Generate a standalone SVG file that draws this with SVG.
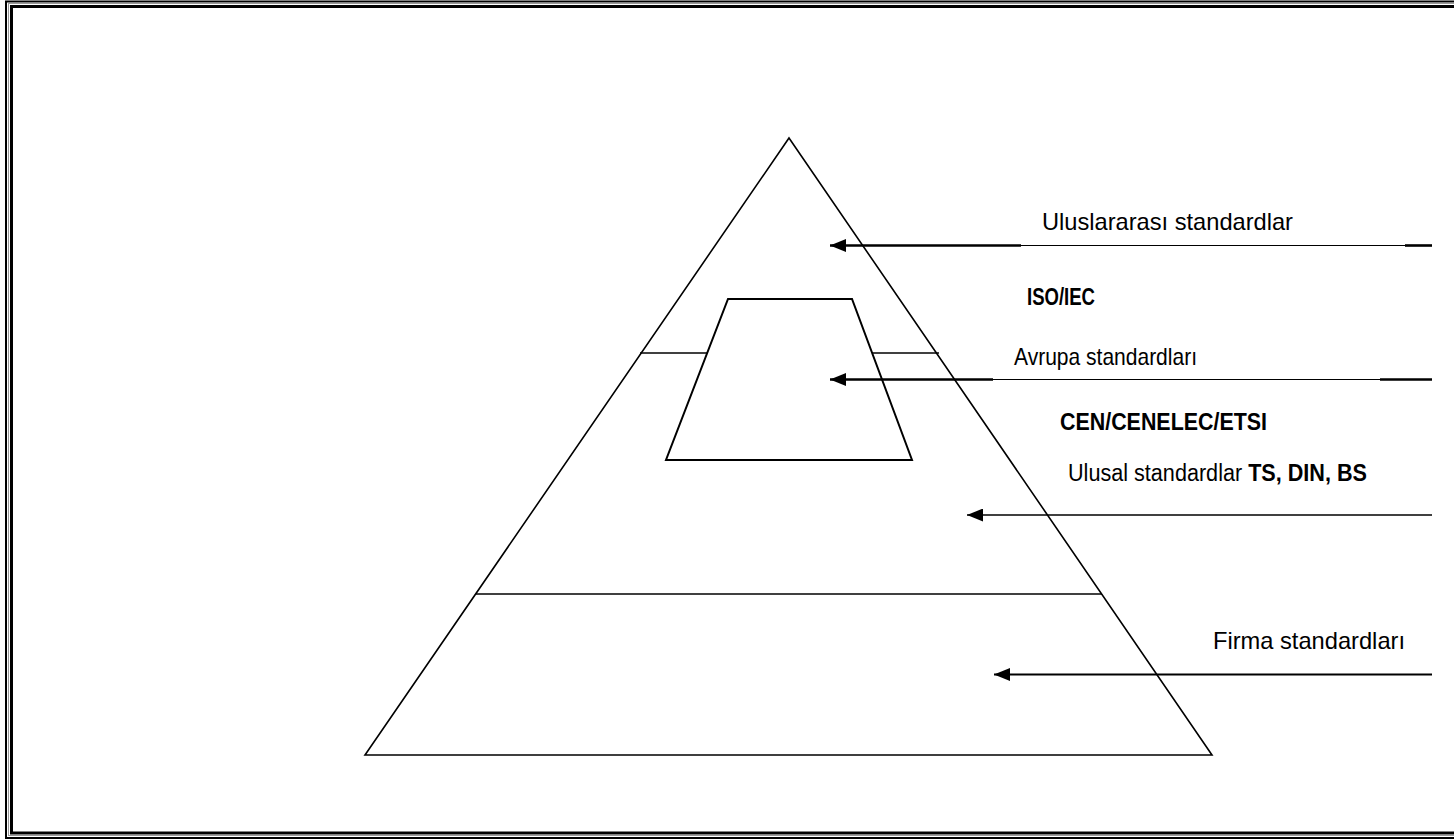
<svg xmlns="http://www.w3.org/2000/svg" width="1454" height="839" viewBox="0 0 1454 839">
<style>
.shape{fill:none;stroke:#000;stroke-width:1.6;stroke-linejoin:miter}
.ln{stroke:#000;fill:none}
.t{font-family:"Liberation Sans",Arial,sans-serif;font-size:24px;fill:#000}
.b{font-weight:bold}
</style>
<defs>
<marker id="ah" markerWidth="16" markerHeight="13" refX="16" refY="6.5" orient="auto" markerUnits="userSpaceOnUse" viewBox="0 0 16 13">
<path d="M0,0 L16,6.5 L0,13 Z" fill="#000"/>
</marker>
</defs>
<rect width="1454" height="839" fill="#fff"/>
<g id="frame">
<rect x="6" y="1.5" width="1460" height="836.5" fill="none" stroke="#000" stroke-width="2"/>
<rect x="8.5" y="3.5" width="1460" height="832" fill="none" stroke="#999" stroke-width="1"/>
<rect x="11.5" y="6.5" width="1450" height="826.5" fill="none" stroke="#000" stroke-width="3"/>
</g>
<g id="pyramid">
<polygon class="shape" points="789,138 1212,755 365,755"/>
<line class="shape" x1="476" y1="594" x2="1102" y2="594"/>
<line class="shape" x1="640" y1="353" x2="707" y2="353"/>
<line class="shape" x1="872" y1="353" x2="939" y2="353"/>
</g>
<g id="europe-block">
<polygon class="shape" style="stroke-width:2" points="728,299 852,299 912,460 666,460"/>
</g>
<g id="connectors">
<line class="ln" x1="1021" y1="245.5" x2="830" y2="245.5" stroke-width="2.6" marker-end="url(#ah)"/>
<line class="ln" x1="1021" y1="245.5" x2="1405" y2="245.5" stroke-width="1.2"/>
<line class="ln" x1="1405" y1="245.5" x2="1432" y2="245.5" stroke-width="2.6"/>
<line class="ln" x1="993" y1="379.5" x2="830" y2="379.5" stroke-width="2.6" marker-end="url(#ah)"/>
<line class="ln" x1="993" y1="379.5" x2="1380" y2="379.5" stroke-width="1.2"/>
<line class="ln" x1="1380" y1="379.5" x2="1432" y2="379.5" stroke-width="2.6"/>
<line class="ln" x1="1432" y1="515" x2="967" y2="515" stroke-width="1.5" marker-end="url(#ah)"/>
<line class="ln" x1="1432" y1="674.5" x2="994" y2="674.5" stroke-width="2" marker-end="url(#ah)"/>
</g>
<g id="labels">
<text class="t" x="1042" y="230" textLength="251" lengthAdjust="spacingAndGlyphs">Uluslararası standardlar</text>
<text class="t b" x="1027" y="305" textLength="68" lengthAdjust="spacingAndGlyphs" style="font-size:23px">ISO/IEC</text>
<text class="t" x="1014" y="365" textLength="183" lengthAdjust="spacingAndGlyphs">Avrupa standardları</text>
<text class="t b" x="1060" y="430" textLength="207" lengthAdjust="spacingAndGlyphs" style="font-size:23px">CEN/CENELEC/ETSI</text>
<text class="t" x="1068" y="481" textLength="299" lengthAdjust="spacingAndGlyphs" style="font-size:23px">Ulusal standardlar <tspan class="b">TS, DIN, BS</tspan></text>
<text class="t" x="1213" y="649" textLength="192" lengthAdjust="spacingAndGlyphs">Firma standardları</text>
</g>
</svg>
